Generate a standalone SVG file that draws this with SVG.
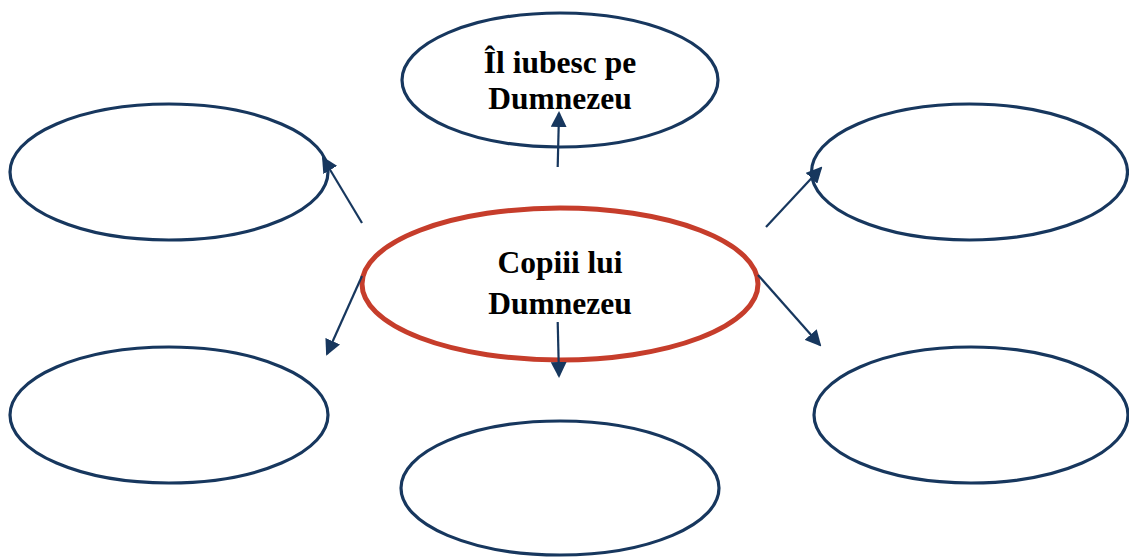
<svg xmlns="http://www.w3.org/2000/svg" width="1129" height="559" viewBox="0 0 1129 559">
  <style>
    .node { fill: #ffffff; stroke: #17375E; stroke-width: 3.2; }
    .center { fill: #ffffff; stroke: #C63D2B; stroke-width: 5; }
    .conn { stroke: #17375E; stroke-width: 2.2; fill: none; marker-end: url(#arrow); }
    .label { font-family: "Liberation Serif", "Times New Roman", serif; font-weight: bold; font-size: 31.5px; fill: #000000; text-anchor: middle; }
  </style>
  <defs>
    <marker id="arrow" viewBox="0 0 16 16" markerWidth="16" markerHeight="16" refX="14" refY="8" orient="auto" markerUnits="userSpaceOnUse">
      <path d="M0,0 L16,8 L0,16 z" fill="#17375E"/>
    </marker>
  </defs>
  <rect width="1129" height="559" fill="#ffffff"/>

  <g id="node-top">
    <ellipse class="node" cx="560" cy="80" rx="158" ry="67"/>
    <text class="label" x="560" y="73">Îl iubesc pe</text>
    <text class="label" x="560" y="109">Dumnezeu</text>
  </g>
  <g id="node-top-left">
    <ellipse class="node" cx="169" cy="172" rx="159" ry="68"/>
  </g>
  <g id="node-top-right">
    <ellipse class="node" cx="969.5" cy="172" rx="158" ry="68"/>
  </g>
  <g id="node-bottom-left">
    <ellipse class="node" cx="169" cy="415" rx="159" ry="68"/>
  </g>
  <g id="node-bottom-right">
    <ellipse class="node" cx="971" cy="415" rx="157" ry="68"/>
  </g>
  <g id="node-bottom">
    <ellipse class="node" cx="560" cy="488" rx="159" ry="67"/>
  </g>
  <g id="node-center">
    <ellipse class="center" cx="560" cy="284" rx="198" ry="76"/>
    <text class="label" x="560" y="273">Copiii lui</text>
    <text class="label" x="560" y="314">Dumnezeu</text>
  </g>

  <g id="connectors">
    <line class="conn" x1="557.7" y1="167" x2="559" y2="113"/>
    <line class="conn" x1="362" y1="223" x2="323" y2="158"/>
    <line class="conn" x1="362" y1="276" x2="327" y2="354"/>
    <line class="conn" x1="766" y1="227" x2="821" y2="168"/>
    <line class="conn" x1="758" y1="275" x2="820" y2="345"/>
    <line class="conn" x1="557.7" y1="322" x2="559" y2="376"/>
  </g>
</svg>
